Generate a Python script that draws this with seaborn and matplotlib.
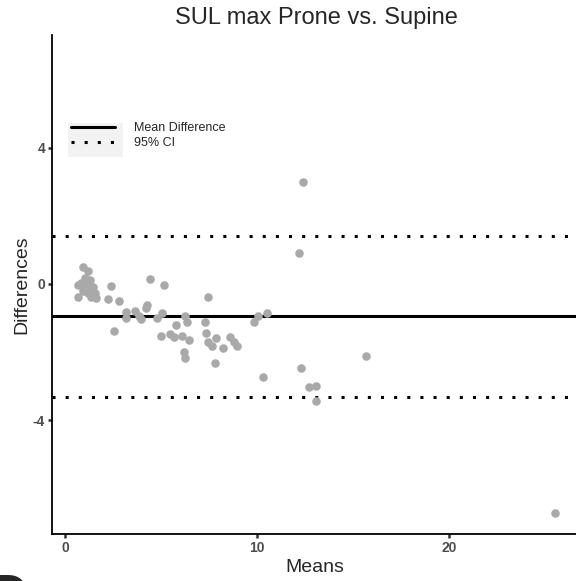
import numpy as np
import pandas as pd
import seaborn as sns
import matplotlib
matplotlib.use("Agg")
import matplotlib.pyplot as plt
from matplotlib.lines import Line2D
from matplotlib.patches import Rectangle

# --- Bland-Altman values ---
means = [0.94, 1.17, 0.68, 0.68, 1.02, 1.09, 1.28, 1.46, 1.54, 1.35,
         1.62, 0.94, 1.20, 0.83, 1.25, 2.40, 2.26, 2.81, 3.18, 3.15,
         3.65, 3.83, 3.96, 2.57, 4.43, 5.16, 4.29, 4.22, 4.78, 5.04,
         5.78, 6.25, 6.34, 4.98, 5.47, 5.68, 6.09, 6.47, 6.17, 6.25,
         7.42, 7.29, 7.34, 7.45, 7.66, 7.87, 8.21, 8.59, 8.77, 8.96,
         7.78, 9.81, 10.02, 10.51, 10.30, 12.20, 12.40, 12.28, 12.71, 13.07,
         13.07, 15.68, 25.52]
diffs = [0.51, 0.37, -0.03, -0.38, 0.18, -0.03, 0.12, -0.09, -0.26, -0.37,
         -0.41, -0.22, -0.26, 0.03, -0.12, -0.06, -0.43, -0.51, -0.82, -1.00,
         -0.79, -0.94, -1.04, -1.38, 0.14, -0.03, -0.62, -0.72, -1.00, -0.84,
         -1.21, -0.93, -1.12, -1.53, -1.46, -1.57, -1.52, -1.66, -1.99, -2.18,
         -0.37, -1.11, -1.43, -1.72, -1.82, -1.60, -1.87, -1.55, -1.70, -1.82,
         -2.32, -1.11, -0.93, -0.85, -2.73, 0.92, 2.99, -2.46, -3.02, -3.01,
         -3.44, -2.11, -6.74]

mean_diff = -0.95
ci_upper = 1.41
ci_lower = -3.32

x_ticks = [0, 10, 20]
y_ticks = [-4, 0, 4]

df = pd.DataFrame({"Means": means, "Differences": diffs})

sns.set_style("ticks")
plt.rcParams["font.family"] = ["Liberation Sans", "DejaVu Sans"]
plt.rcParams["axes.unicode_minus"] = False

fig = plt.figure(figsize=(5.76, 5.81), dpi=100)
ax = fig.add_axes([52 / 576, 1 - 534 / 581, 526 / 576, 499 / 581])

sns.scatterplot(data=df, x="Means", y="Differences", ax=ax,
                color="#A9A9A9", s=38, linewidth=0, zorder=3)

ax.axhline(mean_diff, color="black", lw=2.2, zorder=2)
ax.axhline(ci_upper, color="black", lw=2.2, ls=(0, (1, 3.3)), zorder=2)
ax.axhline(ci_lower, color="black", lw=2.2, ls=(0, (1, 3.3)), zorder=2)

ax.set_xlim(-0.68, 26.7)
ax.set_ylim(-7.35, 7.32)
ax.set_xticks(x_ticks)
ax.set_yticks(y_ticks)

# --- ggplot classic-ish look ---
sns.despine(ax=ax)
for side in ["left", "bottom"]:
    ax.spines[side].set_color("black")
    ax.spines[side].set_linewidth(1.3)
ax.tick_params(axis="both", direction="out", length=3, width=1.8,
               color="#333333", labelsize=10, labelcolor="#4D4D4D", pad=2,
               bottom=True, left=True)
for lab in ax.get_xticklabels() + ax.get_yticklabels():
    lab.set_fontweight("bold")

ax.set_xlabel("Means", fontsize=14, labelpad=3)
ax.set_ylabel("Differences", fontsize=14, labelpad=2)
fig.text(316 / 576, 1 - 18 / 581, "SUL max Prone vs. Supine",
         ha="center", va="center", fontsize=17)

# legend with light grey key background
fig.patches.append(Rectangle((68 / 576, 1 - 157 / 581), 55 / 576, 34 / 581,
                             transform=fig.transFigure, facecolor="#F2F2F2",
                             edgecolor="none", zorder=0))
handles = [Line2D([], [], color="black", lw=2.2),
           Line2D([], [], color="black", lw=2.2, ls=(0, (1, 3.3)))]
fig.legend(handles, ["Mean Difference", "95% CI"],
           loc="upper left", bbox_to_anchor=(71 / 576, 1 - 122 / 581),
           frameon=False, fontsize=9, handlelength=3.5, handletextpad=1.5,
           labelspacing=0.25, borderpad=0, borderaxespad=0)

# cut-off panel letter at bottom left
fig.text(-8 / 576, 1 - 610 / 581, "D", ha="left", va="baseline",
         fontsize=36, fontweight="bold")

fig.savefig("out.png", dpi=100)
